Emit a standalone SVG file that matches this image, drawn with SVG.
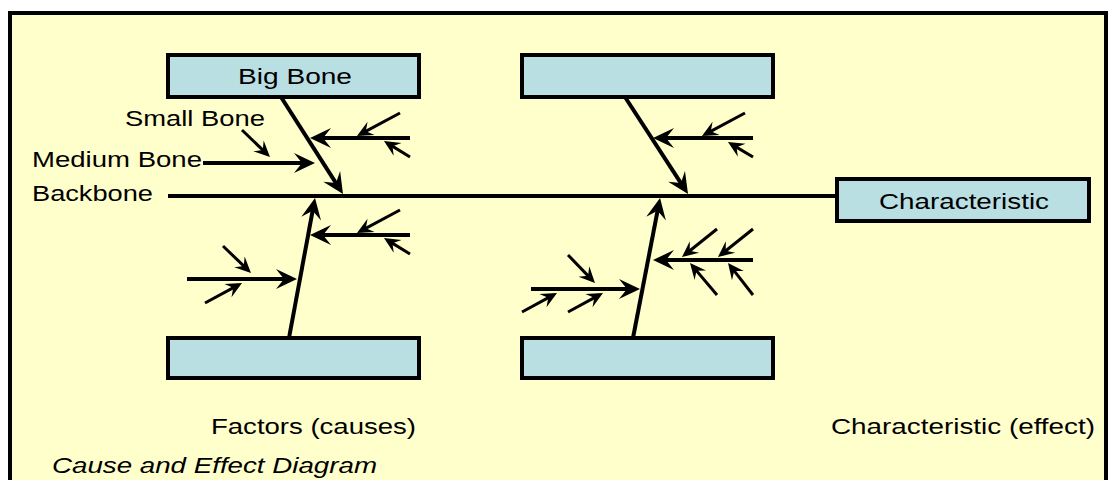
<svg xmlns="http://www.w3.org/2000/svg" width="1112" height="480" viewBox="0 0 1112 480">
  <style>
    .frame { fill: #FFFFCC; stroke: #000; stroke-width: 4; }
    .box { fill: #B9DFE3; stroke: #000; stroke-width: 4; }
    .lbl { font-family: "Liberation Sans", Arial, sans-serif; font-size: 22px; fill: #000; }
    .ital { font-style: italic; }
    .bone { stroke: #000; stroke-width: 4; fill: none; stroke-linecap: butt; }
    .small { stroke: #000; stroke-width: 3; fill: none; stroke-linecap: butt; }
    .big-arrow { marker-end: url(#headL); }
    .small-arrow { marker-end: url(#headS); }
  </style>
  <defs>
    <!-- notched arrowheads; tip sits a few px past the line end so the butt cap stays hidden -->
    <marker id="headL" markerUnits="userSpaceOnUse" viewBox="-22 -11 24 22" refX="-5" refY="0" markerWidth="24" markerHeight="22" orient="auto" overflow="visible">
      <path d="M0,0 L-21,-10 L-13,0 L-21,10 Z" fill="#000"/>
    </marker>
    <marker id="headS" markerUnits="userSpaceOnUse" viewBox="-17 -9 19 18" refX="-4" refY="0" markerWidth="19" markerHeight="18" orient="auto" overflow="visible">
      <path d="M0,0 L-16,-7.5 L-10,0 L-16,7.5 Z" fill="#000"/>
    </marker>
  </defs>

  <!-- page frame -->
  <rect class="frame" x="10" y="13" width="1096" height="490"/>

  <!-- connectors: backbone, big bones, medium bones, small bones -->
  <g id="connectors">
    <line class="bone" x1="168" y1="196" x2="837" y2="196"/>

    <!-- big bones -->
    <line class="bone big-arrow" x1="281" y1="97" x2="340.3" y2="189.8"/>
    <line class="bone big-arrow" x1="625" y1="97" x2="685.3" y2="189.8"/>
    <line class="bone big-arrow" x1="289" y1="338" x2="314.1" y2="202.9"/>
    <line class="bone big-arrow" x1="633" y1="338" x2="659.1" y2="202.9"/>

    <!-- medium bones -->
    <line class="bone big-arrow" x1="203" y1="163" x2="310" y2="163"/>
    <line class="bone big-arrow" x1="410" y1="138" x2="315" y2="138"/>
    <line class="bone big-arrow" x1="410" y1="235" x2="315" y2="235"/>
    <line class="bone big-arrow" x1="187" y1="279" x2="292" y2="279"/>
    <line class="bone big-arrow" x1="753" y1="138" x2="658" y2="138"/>
    <line class="bone big-arrow" x1="753" y1="260" x2="658" y2="260"/>
    <line class="bone big-arrow" x1="531" y1="289" x2="635" y2="289"/>

    <!-- small bones -->
    <line class="small small-arrow" x1="242" y1="130" x2="267.1" y2="154.2"/>
    <line class="small small-arrow" x1="400" y1="113" x2="360.5" y2="134.1"/>
    <line class="small small-arrow" x1="410" y1="157" x2="387.4" y2="143.1"/>
    <line class="small small-arrow" x1="400" y1="210" x2="360.5" y2="231.1"/>
    <line class="small small-arrow" x1="410" y1="254" x2="387.4" y2="240.1"/>
    <line class="small small-arrow" x1="223" y1="246" x2="248.1" y2="270.2"/>
    <line class="small small-arrow" x1="205" y1="303" x2="238.5" y2="284.9"/>
    <line class="small small-arrow" x1="745" y1="113" x2="705.5" y2="134.1"/>
    <line class="small small-arrow" x1="753" y1="157" x2="731.4" y2="144.1"/>
    <line class="small small-arrow" x1="717" y1="229" x2="685.1" y2="254.5"/>
    <line class="small small-arrow" x1="753" y1="229" x2="721.1" y2="254.5"/>
    <line class="small small-arrow" x1="717" y1="295" x2="692.6" y2="266.1"/>
    <line class="small small-arrow" x1="753" y1="295" x2="730.5" y2="266.2"/>
    <line class="small small-arrow" x1="568" y1="255" x2="592.2" y2="280.1"/>
    <line class="small small-arrow" x1="522" y1="312" x2="553.5" y2="294.9"/>
    <line class="small small-arrow" x1="568" y1="312" x2="599.5" y2="294.9"/>
  </g>

  <!-- factor boxes; labels are drawn with a wide (1.25x) letterform -->
  <g id="factor-top-left">
    <rect class="box" x="168" y="55" width="251" height="42"/>
    <text class="lbl" transform="scale(1.25,1)" x="190.4" y="84" textLength="91.2" lengthAdjust="spacingAndGlyphs">Big Bone</text>
  </g>
  <g id="factor-top-right">
    <rect class="box" x="522" y="55" width="251" height="42"/>
  </g>
  <g id="factor-bottom-left">
    <rect class="box" x="168" y="338" width="251" height="40"/>
  </g>
  <g id="factor-bottom-right">
    <rect class="box" x="522" y="338" width="251" height="40"/>
  </g>
  <g id="characteristic">
    <rect class="box" x="837" y="179" width="252" height="42"/>
    <text class="lbl" transform="scale(1.25,1)" x="703.2" y="209" textLength="136" lengthAdjust="spacingAndGlyphs">Characteristic</text>
  </g>

  <!-- part labels -->
  <g id="labels" transform="scale(1.25,1)">
    <text class="lbl" x="100" y="126" textLength="112" lengthAdjust="spacingAndGlyphs">Small Bone</text>
    <text class="lbl" x="25.6" y="167" textLength="136" lengthAdjust="spacingAndGlyphs">Medium Bone</text>
    <text class="lbl" x="25.6" y="201" textLength="96.8" lengthAdjust="spacingAndGlyphs">Backbone</text>
    <text class="lbl" x="168.8" y="434" textLength="164" lengthAdjust="spacingAndGlyphs">Factors (causes)</text>
    <text class="lbl" x="664.8" y="434" textLength="211.2" lengthAdjust="spacingAndGlyphs">Characteristic (effect)</text>
    <text class="lbl ital" x="41.6" y="473" textLength="260" lengthAdjust="spacingAndGlyphs">Cause and Effect Diagram</text>
  </g>
</svg>
